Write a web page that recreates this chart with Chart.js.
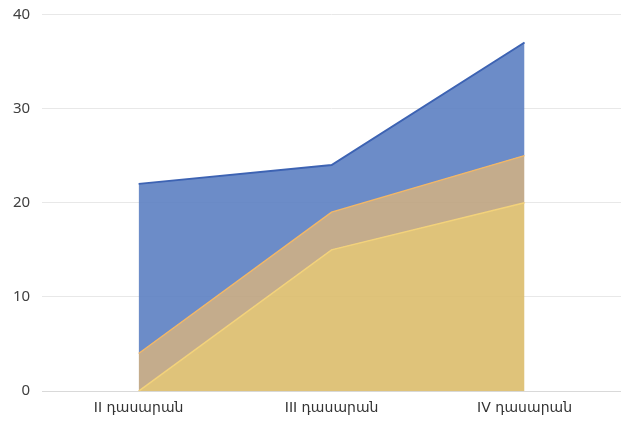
<!DOCTYPE html>
<html>
<head>
<meta charset="utf-8">
<script src="https://cdn.jsdelivr.net/npm/chart.js@4/dist/chart.umd.min.js"></script>
<style>
  html, body { margin: 0; padding: 0; background: #fff; }
  #wrap { width: 621px; height: 421px; }
</style>
</head>
<body>
<div id="wrap"><canvas id="chart-grades"></canvas></div>
<script>
// categories and series
const GRADES = ['II դասարան', 'III դասարան', 'IV դասարան'];
const LOW_DATA = [0, 15, 20];
const MID_DATA = [4, 19, 25];
const HIGH_DATA = [22, 24, 37];
const Y_TICKS = [0, 10, 20, 30, 40];

var domChart = document.getElementById('chart-grades');
new Chart(domChart, {
    type: 'line',
    data: {
        labels: GRADES,
        datasets: [
            {
                label: 'Series 3',
                backgroundColor: 'rgba(220,189,107,0.9)',
                borderColor: '#f3d27a',
                borderWidth: 1.5,
                fill: 'origin',
                data: LOW_DATA
            },
            {
                label: 'Series 2',
                backgroundColor: 'rgba(190,163,127,0.9)',
                borderColor: '#f2b766',
                borderWidth: 1.5,
                fill: '-1',
                data: MID_DATA
            },
            {
                label: 'Series 1',
                backgroundColor: 'rgba(92,127,194,0.9)',
                borderColor: '#3d63b3',
                borderWidth: 2,
                fill: '-1',
                data: HIGH_DATA
            }
        ]
    },
    options: {
        responsive: true,
        maintainAspectRatio: false,
        animation: false,
        layout: { padding: { top: 0, right: 0, left: 1, bottom: -5 } },
        elements: { point: { radius: 0 }, line: { tension: 0 } },
        plugins: {
            legend: { display: false },
            tooltip: { enabled: false }
        },
        scales: {
            x: {
                offset: true,
                grid: { display: false, drawTicks: false },
                border: { display: true, color: '#d9d9d9', width: 1 },
                ticks: {
                    color: '#333333',
                    padding: 9,
                    font: { family: "'DejaVu Sans', sans-serif", size: 14 }
                }
            },
            y: {
                min: 0,
                max: 40,
                afterBuildTicks: function(axis) {
                    axis.ticks = Y_TICKS.map(function(v) { return { value: v }; });
                },
                grid: { color: '#e8e8e8', drawTicks: false },
                border: { display: false },
                ticks: {
                    color: '#404040',
                    padding: 12,
                    // small line height keeps the plot top close to the canvas edge
                    font: { family: "'Noto Sans', 'DejaVu Sans', sans-serif", size: 15, lineHeight: 0.3 }
                }
            }
        }
    }
});
</script>
</body>
</html>
